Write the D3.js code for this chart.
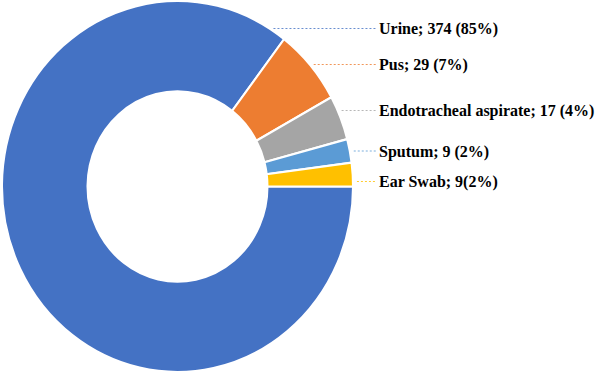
<!DOCTYPE html>
<html>
<head>
<meta charset="utf-8">
<script src="https://cdn.jsdelivr.net/npm/d3@7"></script>
<style>
  body { margin: 0; background: #fff; }
  .label { font-family: "Liberation Serif", "Times New Roman", serif; font-weight: bold; font-size: 16px; fill: #000; }
</style>
</head>
<body>
<script>
// specimen types and counts, in slice order (clockwise from 3 o'clock)
var categories = ["Urine", "Pus", "Endotracheal aspirate", "Sputum", "Ear Swab"];
var counts = [374, 29, 17, 9, 9];
var labels = ["Urine; 374 (85%)", "Pus; 29 (7%)", "Endotracheal aspirate; 17 (4%)", "Sputum; 9 (2%)", "Ear Swab; 9(2%)"];
var colors = ["#4472C4", "#ED7D31", "#A5A5A5", "#5B9BD5", "#FFC000"];

var width = 602,
    height = 376;

var cx = 177.5, cy = 186.5,
    rOuter = 175.5, rInner = 90,
    squash = 1.057; // picture is slightly stretched vertically

// leader line heights, picked to match the original layout
var lineY = [28.5, 64.5, 110.5, 151, 181.5];
var labelX = 379;

var svg = d3.select("body")
    .append("svg")
    .attr("width", width)
    .attr("height", height);

var pie = d3.pie()
    .sort(null)
    .startAngle(Math.PI / 2)
    .endAngle(Math.PI / 2 + 2 * Math.PI);

var arc = d3.arc()
    .innerRadius(rInner)
    .outerRadius(rOuter);

var data = categories.map(function(c, i){ return {name: c, value: counts[i], color: colors[i], label: labels[i], y: lineY[i]}; });

var g = svg.append("g")
    .attr("transform", "translate(" + cx + "," + cy + ") scale(1," + squash + ")");

g.selectAll("path")
    .data(pie.value(function(d){ return d.value; })(data))
    .enter()
    .append("path")
    .attr("d", arc)
    .attr("fill", function(d){ return d.data.color; })
    .attr("stroke", "#fff")
    .attr("stroke-width", 2);

// leader lines start at the outer edge at their height
function edgeX(y){
    var t = (y - cy) / (rOuter * squash);
    return cx + rOuter * Math.sqrt(Math.max(0, 1 - t * t));
}

svg.selectAll(".leader")
    .data(data)
    .enter()
    .append("line")
    .attr("class", "leader")
    .attr("x1", function(d){ return edgeX(d.y) + 4; })
    .attr("x2", labelX - 3)
    .attr("y1", function(d){ return d.y; })
    .attr("y2", function(d){ return d.y; })
    .attr("stroke", function(d){ return d.color; })
    .attr("stroke-opacity", 0.8)
    .attr("stroke-width", 1)
    .attr("stroke-dasharray", "2,2");

svg.selectAll(".label")
    .data(data)
    .enter()
    .append("text")
    .attr("class", "label")
    .attr("transform", function(d){ return "translate(" + labelX + "," + (d.y + 2) + ") scale(1," + squash + ")"; })
    .attr("dominant-baseline", "middle")
    .text(function(d){ return d.label; });
</script>
</body>
</html>
